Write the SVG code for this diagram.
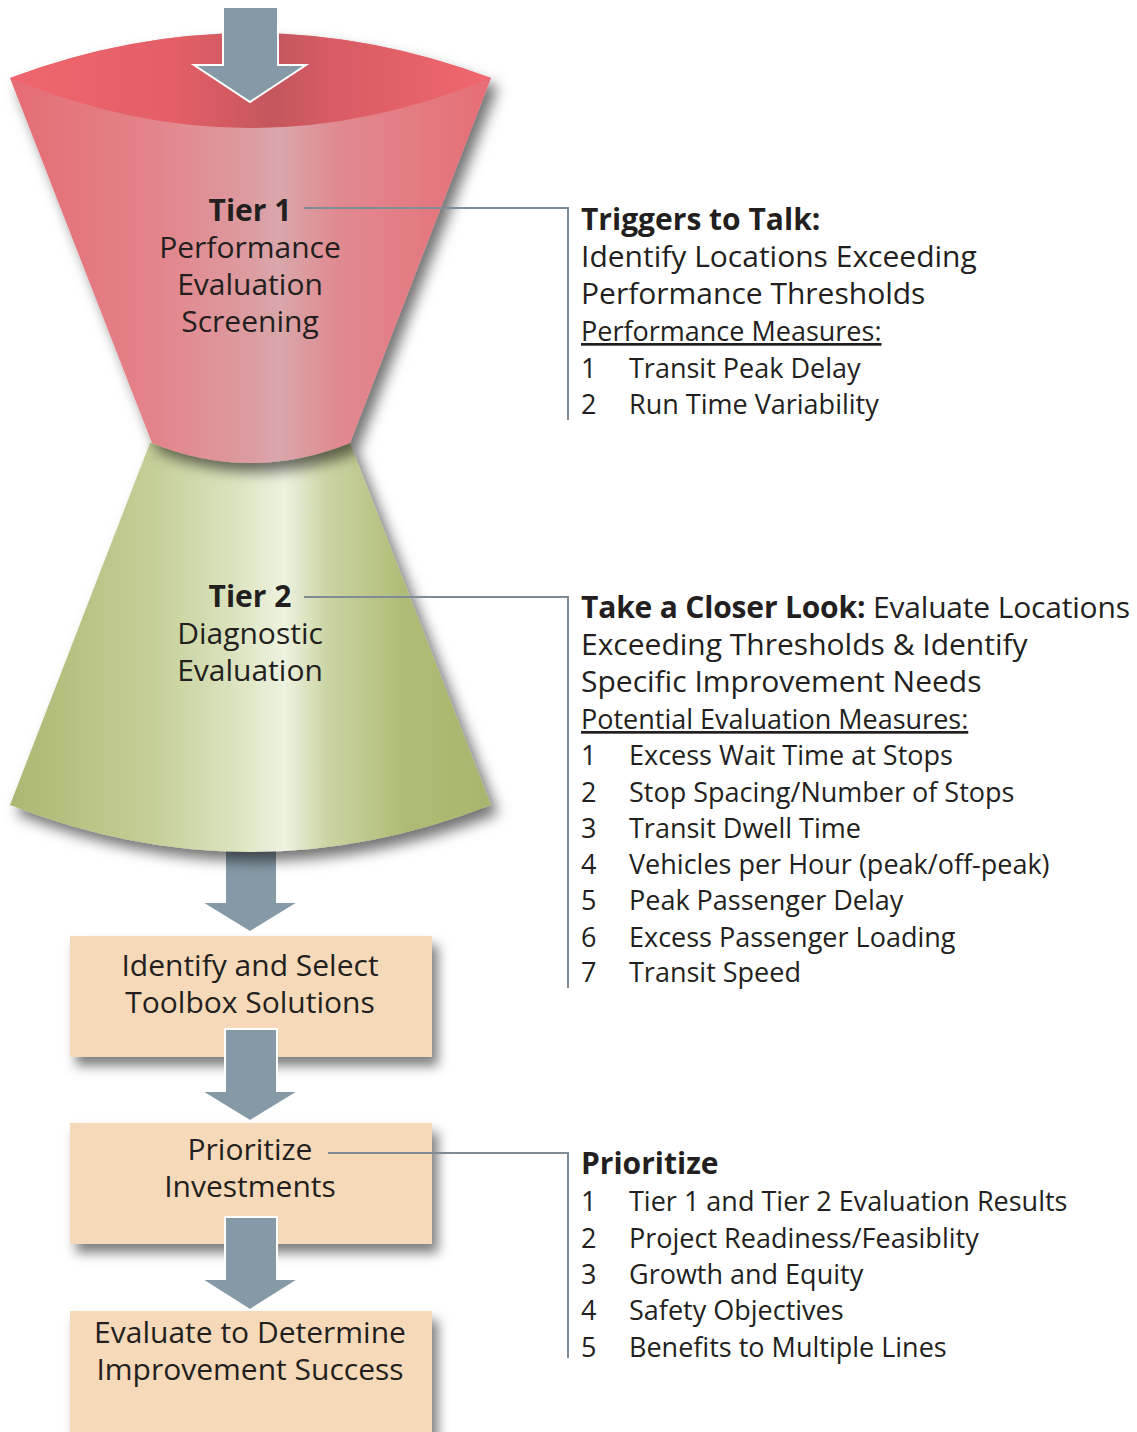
<svg xmlns="http://www.w3.org/2000/svg" width="1137" height="1432" viewBox="0 0 1137 1432">
  <style>
    .t { font-family: "Open Sans", "Noto Sans", "DejaVu Sans", sans-serif; font-size: 27px; fill: #231f20; }
    .L { font-size: 30px; }
    .b { font-weight: 700; }
    .c { text-anchor: middle; }
    .u { text-decoration: underline; }
    .conn { fill: none; stroke: #7f8c95; stroke-width: 2; }
    .arrow { fill: #8599a6; stroke: #ffffff; stroke-width: 2; stroke-linejoin: miter; }
    .box { fill: #f6d9b9; }
  </style>
  <defs>
    <linearGradient id="redBody" gradientUnits="userSpaceOnUse" x1="10" y1="0" x2="491" y2="0">
      <stop offset="0" stop-color="#e56c74"/>
      <stop offset="0.3" stop-color="#e3848a"/>
      <stop offset="0.5" stop-color="#dc9ca1"/>
      <stop offset="0.56" stop-color="#d9a7ab"/>
      <stop offset="0.68" stop-color="#e08a90"/>
      <stop offset="1" stop-color="#e76d75"/>
    </linearGradient>
    <linearGradient id="redTop" gradientUnits="userSpaceOnUse" x1="10" y1="0" x2="491" y2="0">
      <stop offset="0" stop-color="#f0666e"/>
      <stop offset="0.35" stop-color="#e35e67"/>
      <stop offset="0.55" stop-color="#c4565d"/>
      <stop offset="0.68" stop-color="#d95c64"/>
      <stop offset="1" stop-color="#f1676f"/>
    </linearGradient>
    <linearGradient id="greenBody" gradientUnits="userSpaceOnUse" x1="10" y1="0" x2="491" y2="0">
      <stop offset="0" stop-color="#abb771"/>
      <stop offset="0.3" stop-color="#c5cf98"/>
      <stop offset="0.48" stop-color="#dde5c2"/>
      <stop offset="0.57" stop-color="#eef3e0"/>
      <stop offset="0.66" stop-color="#cbd4a3"/>
      <stop offset="0.82" stop-color="#afbc76"/>
      <stop offset="1" stop-color="#a8b56c"/>
    </linearGradient>
    <filter id="shadow" x="-20%" y="-20%" width="140%" height="140%">
      <feDropShadow dx="7" dy="9" stdDeviation="7" flood-color="#000" flood-opacity="0.55"/>
    </filter>
    <filter id="boxShadow" x="-20%" y="-30%" width="140%" height="170%">
      <feDropShadow dx="6" dy="9" stdDeviation="6" flood-color="#000" flood-opacity="0.5"/>
    </filter>
  </defs>

  <!-- arrow from the funnel down to the first box (sits behind the funnel) -->
  <g id="arrow-funnel-to-toolbox">
    <path class="arrow" d="M225,840 H277 V902 H299 L250,932 L201,902 H225 Z"/>
  </g>

  <!-- Tier 2 funnel section -->
  <g id="tier2">
    <path d="M150,443 L350,443 L491,805 Q250,899 10,805 Z" fill="url(#greenBody)" filter="url(#shadow)"/>
    <text class="t L b c" x="250" y="607">Tier 2</text>
    <text class="t L c" x="250" y="644">Diagnostic</text>
    <text class="t L c" x="250" y="681">Evaluation</text>
  </g>

  <!-- Tier 1 funnel section -->
  <g id="tier1">
    <path d="M10,78 Q250,-12 491,78 L350,443 Q250,483 152,443 Z" fill="url(#redBody)" filter="url(#shadow)"/>
    <path d="M10,78 Q250,-12 491,78 Q250,178 10,78 Z" fill="url(#redTop)"/>
    <text class="t L b c" x="250" y="221">Tier 1</text>
    <text class="t L c" x="250" y="258">Performance</text>
    <text class="t L c" x="250" y="295">Evaluation</text>
    <text class="t L c" x="250" y="332">Screening</text>
  </g>

  <!-- entry arrow into the funnel -->
  <g id="arrow-entry">
    <path class="arrow" d="M223,7 H278 V65 H306 L250,102 L194,65 H223 Z"/>
  </g>

  <!-- process boxes -->
  <g id="toolbox">
    <rect class="box" x="70" y="936" width="362" height="121" filter="url(#boxShadow)"/>
    <text class="t L c" x="250" y="976">Identify and Select</text>
    <text class="t L c" x="250" y="1013">Toolbox Solutions</text>
  </g>
  <g id="prioritize">
    <rect class="box" x="70" y="1123" width="362" height="121" filter="url(#boxShadow)"/>
    <text class="t L c" x="250" y="1160">Prioritize</text>
    <text class="t L c" x="250" y="1197">Investments</text>
  </g>
  <g id="evaluate">
    <rect class="box" x="70" y="1311" width="362" height="140" filter="url(#boxShadow)"/>
    <text class="t L c" x="250" y="1343">Evaluate to Determine</text>
    <text class="t L c" x="250" y="1380">Improvement Success</text>
  </g>

  <!-- arrows between boxes -->
  <g id="arrow-toolbox-to-prioritize">
    <path class="arrow" d="M225,1029 H277 V1091 H299 L250,1121 L201,1091 H225 Z"/>
  </g>
  <g id="arrow-prioritize-to-evaluate">
    <path class="arrow" d="M225,1217 H277 V1279 H299 L250,1310 L201,1279 H225 Z"/>
  </g>

  <!-- leader lines to the description blocks -->
  <g id="connectors">
    <path class="conn" d="M304,208 H568 V420"/>
    <path class="conn" d="M304,597 H568 V988"/>
    <path class="conn" d="M328,1153 H568 V1358"/>
  </g>

  <!-- Tier 1 description -->
  <g id="desc-tier1">
    <text class="t L b" x="581" y="230">Triggers to Talk:</text>
    <text class="t L" x="581" y="267">Identify Locations Exceeding</text>
    <text class="t L" x="581" y="304">Performance Thresholds</text>
    <text class="t u" x="581" y="341">Performance Measures:</text>
    <text class="t" x="581" y="378">1</text><text class="t" x="629" y="378">Transit Peak Delay</text>
    <text class="t" x="581" y="414">2</text><text class="t" x="629" y="414">Run Time Variability</text>
  </g>

  <!-- Tier 2 description -->
  <g id="desc-tier2">
    <text class="t L" x="581" y="618" textLength="549" lengthAdjust="spacing"><tspan class="b">Take a Closer Look:</tspan> Evaluate Locations</text>
    <text class="t L" x="581" y="655">Exceeding Thresholds &amp; Identify</text>
    <text class="t L" x="581" y="692">Specific Improvement Needs</text>
    <text class="t u" x="581" y="729">Potential Evaluation Measures:</text>
    <text class="t" x="581" y="765">1</text><text class="t" x="629" y="765">Excess Wait Time at Stops</text>
    <text class="t" x="581" y="802">2</text><text class="t" x="629" y="802">Stop Spacing/Number of Stops</text>
    <text class="t" x="581" y="838">3</text><text class="t" x="629" y="838">Transit Dwell Time</text>
    <text class="t" x="581" y="874">4</text><text class="t" x="629" y="874">Vehicles per Hour (peak/off-peak)</text>
    <text class="t" x="581" y="910">5</text><text class="t" x="629" y="910">Peak Passenger Delay</text>
    <text class="t" x="581" y="947">6</text><text class="t" x="629" y="947">Excess Passenger Loading</text>
    <text class="t" x="581" y="982">7</text><text class="t" x="629" y="982">Transit Speed</text>
  </g>

  <!-- Prioritization description -->
  <g id="desc-prioritize">
    <text class="t L b" x="581" y="1174">Prioritize</text>
    <text class="t" x="581" y="1211">1</text><text class="t" x="629" y="1211">Tier 1 and Tier 2 Evaluation Results</text>
    <text class="t" x="581" y="1248">2</text><text class="t" x="629" y="1248">Project Readiness/Feasiblity</text>
    <text class="t" x="581" y="1284">3</text><text class="t" x="629" y="1284">Growth and Equity</text>
    <text class="t" x="581" y="1320">4</text><text class="t" x="629" y="1320">Safety Objectives</text>
    <text class="t" x="581" y="1357">5</text><text class="t" x="629" y="1357">Benefits to Multiple Lines</text>
  </g>
</svg>
